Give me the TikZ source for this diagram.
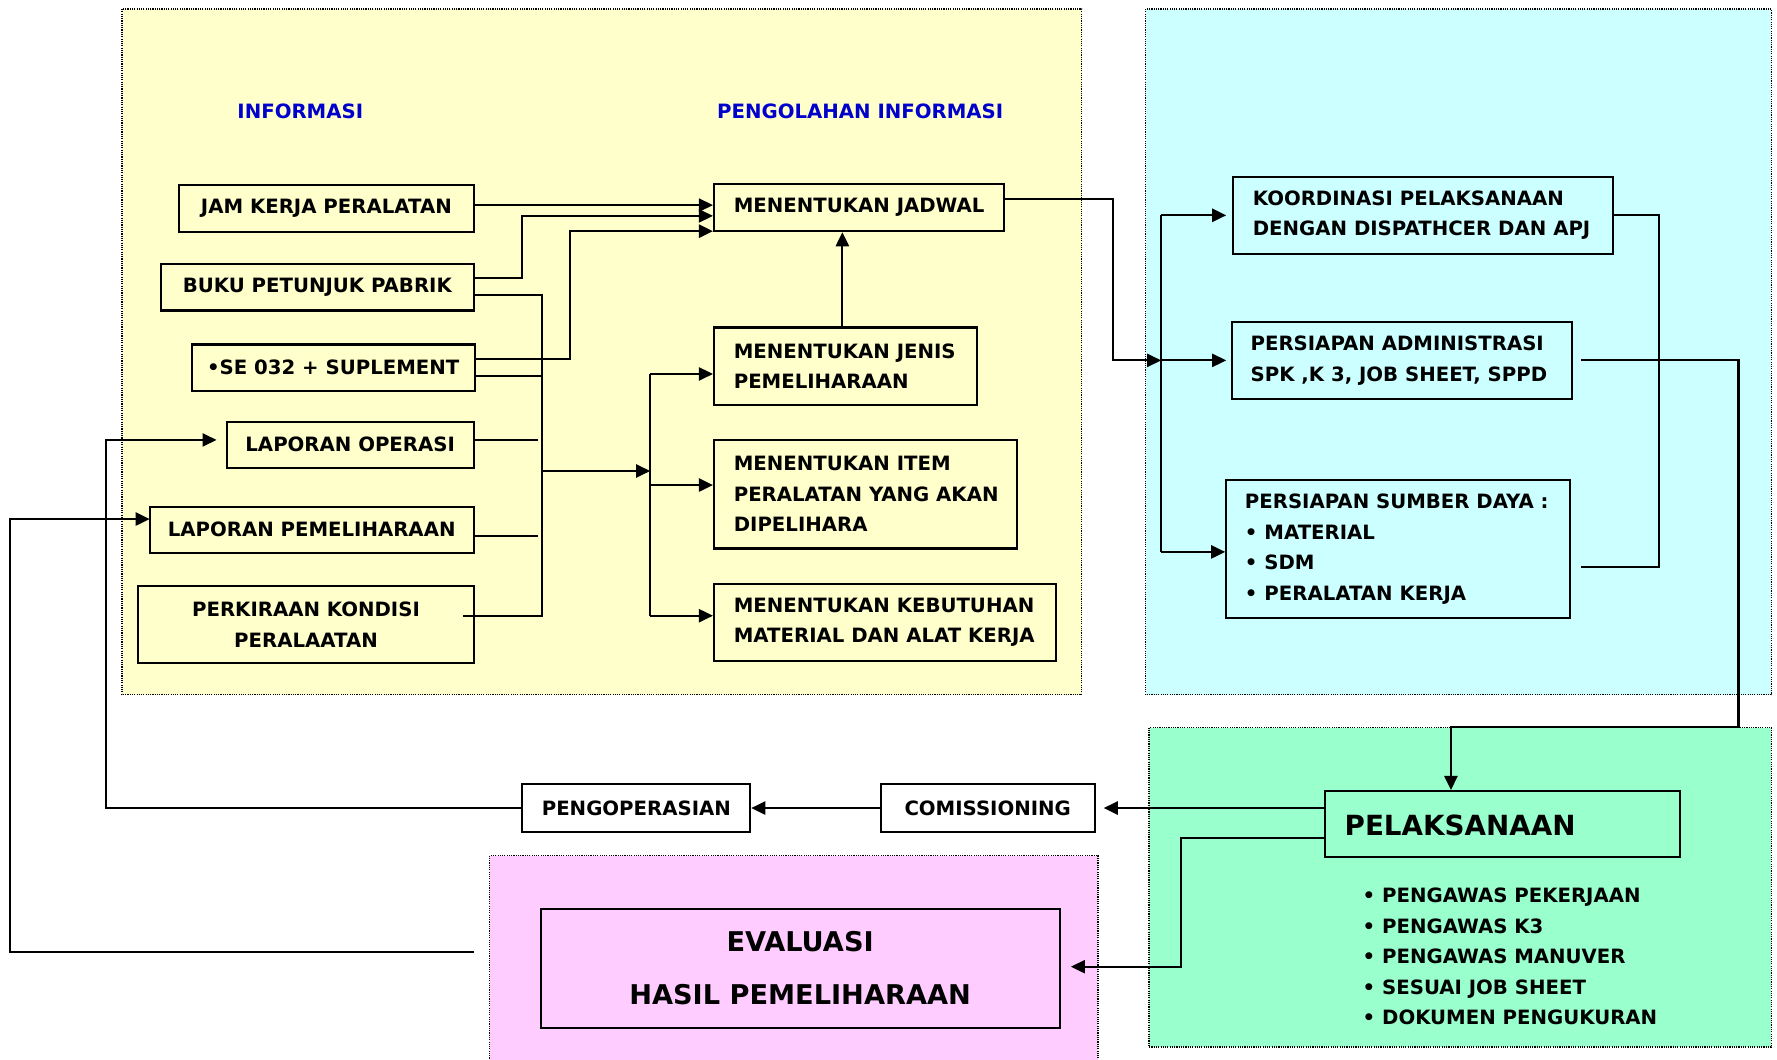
\documentclass[tikz,border=0pt]{standalone}
\usepackage{fontspec}
\setmainfont{DejaVu Sans}
\usetikzlibrary{arrows.meta,calc}
\definecolor{panelY}{HTML}{FFFFCC}
\definecolor{panelC}{HTML}{CCFFFF}
\definecolor{panelG}{HTML}{99FFCC}
\definecolor{panelP}{HTML}{FFCCFF}
\definecolor{headblue}{HTML}{0000CC}
\begin{document}
\begin{tikzpicture}[x=0.5pt,y=-0.5pt,
  every node/.style={font=\fontsize{8.7pt}{13.5pt}\selectfont\bfseries, inner sep=0pt},
  box/.style={draw, line width=0.9pt, align=center},
  txt/.style={align=left, anchor=west},
  wire/.style={line width=0.9pt},
  arr/.style={wire, -{Triangle[length=6.2pt,width=5.8pt]}},
  panel/.style={draw, line width=0.6pt, dash pattern=on 0.5pt off 0.5pt},
  head/.style={text=headblue}]

\clip (0,0) rectangle (1568,935);
\fill[white] (0,0) rectangle (1568,935);

% background panels
\draw[panel, fill=panelY] (107.5,8) rectangle (954.5,613);
\draw[panel, fill=panelC] (1011,8) rectangle (1563,613);
\draw[panel, fill=panelG] (1014,642) rectangle (1563,924);
\draw[panel, fill=panelP] (432,755) rectangle (969,950);

% headings
\node[head] (hInfo) at (265,98) {INFORMASI};
\node[head] (hOlah) at (759,98) {PENGOLAHAN INFORMASI};

% information sources
\node[box, minimum width=130pt, minimum height=21pt] (jam) at (288,184) {JAM KERJA PERALATAN};
\node[box, minimum width=138pt, minimum height=20.5pt] (buku) at (280,253.5) {BUKU PETUNJUK PABRIK};
\node[box, minimum width=125pt, minimum height=20.5pt] (se) at (294,324.5) {•SE 032 + SUPLEMENT};
\node[box, minimum width=109pt, minimum height=20.5pt] (lop) at (309,392.5) {LAPORAN OPERASI};
\node[box, minimum width=143pt, minimum height=20.5pt] (lpem) at (275,467.5) {LAPORAN PEMELIHARAAN};
\node[box, minimum width=148pt, minimum height=34pt] (perk) at (270,551) {PERKIRAAN KONDISI\\PERALAATAN};

% processing
\node[box, minimum width=128pt, minimum height=21pt] (jadwal) at (758,183) {};
\node[txt] at ($(jadwal.west)+(18,0)$) {MENENTUKAN JADWAL};
\node[box, minimum width=116pt, minimum height=34pt] (jenis) at (746,323) {};
\node[txt] at ($(jenis.west)+(18,0)$) {MENENTUKAN JENIS\\PEMELIHARAAN};
\node[box, minimum width=133.5pt, minimum height=48pt] (item) at (763.5,436) {};
\node[txt] at ($(item.west)+(18,0)$) {MENENTUKAN ITEM\\PERALATAN YANG AKAN\\DIPELIHARA};
\node[box, minimum width=151pt, minimum height=34pt] (kebut) at (781,549) {};
\node[txt] at ($(kebut.west)+(18,0)$) {MENENTUKAN KEBUTUHAN\\MATERIAL DAN ALAT KERJA};

% preparation
\node[box, minimum width=167.5pt, minimum height=34pt] (koord) at (1255.5,190) {};
\node[txt] at ($(koord.west)+(18,0)$) {KOORDINASI PELAKSANAAN\\DENGAN DISPATHCER DAN APJ};
\node[box, minimum width=150pt, minimum height=34pt] (admin) at (1237,318) {};
\node[txt] at ($(admin.west)+(17,0)$) {PERSIAPAN ADMINISTRASI\\SPK ,K 3, JOB SHEET, SPPD};
\node[box, minimum width=151.5pt, minimum height=61pt] (sumber) at (1233.5,484.5) {};
\node[txt] at ($(sumber.west)+(17,0)$) {PERSIAPAN SUMBER DAYA :\\• MATERIAL\\• SDM\\• PERALATAN KERJA};

% execution
\node[box, minimum width=156.5pt, minimum height=29pt] (pelak) at (1325.5,727) {};
\node[txt, font=\fontsize{12.25pt}{14pt}\selectfont\bfseries] at ($(pelak.west)+(18,1)$) {PELAKSANAAN};
\node[txt] (list) at (1202,844) {• PENGAWAS PEKERJAAN\\• PENGAWAS K3\\• PENGAWAS MANUVER\\• SESUAI JOB SHEET\\• DOKUMEN PENGUKURAN};
\node[box, minimum width=94.5pt, minimum height=21pt] (comm) at (871.5,713) {COMISSIONING};
\node[box, minimum width=100.5pt, minimum height=21pt] (pengop) at (561.5,713) {PENGOPERASIAN};
\node[box, minimum width=229pt, minimum height=52.5pt, font=\fontsize{12pt}{23.5pt}\selectfont\bfseries] (eval) at (706,854.5) {EVALUASI\\HASIL PEMELIHARAAN};

% routing columns and free ends
\coordinate (cB) at (460.6,0);
\coordinate (cS) at (502.7,0);
\coordinate (bus1) at (478.6,0);
\coordinate (bus2) at (573.7,0);
\coordinate (cU) at (743.3,0);
\coordinate (cJ) at (982.4,0);
\coordinate (bus3) at (1024.6,0);
\coordinate (tipR) at (1082,0);
\coordinate (cK) at (1464,0);
\coordinate (cA) at (1534,0);
\coordinate (rowA) at (0,641.6);
\coordinate (cD) at (1280.3,0);
\coordinate (cP) at (1041.8,0);
\coordinate (cL1) at (93.5,0);
\coordinate (cL2) at (8.7,0);
\coordinate (fb) at (418.4,839.7);

% inputs to the schedule
\draw[arr] ($(jam.east)+(0,-3)$) -- ($(jadwal.west)+(0,-2)$);
\draw[arr] ($(buku.east)+(0,-8)$) -| ($(cB|-jadwal.west)+(0,7.5)$) -- ($(jadwal.west)+(0,7.5)$);
\draw[arr] ($(se.east)+(0,-7.5)$) -| ($(cS|-jadwal.west)+(0,21)$) -- ($(jadwal.west)+(0,21)$);

% collector bus
\draw[wire] ($(buku.east)+(0,7)$) -| ($(bus1|-perk.east)+(0,-7.7)$) -- ($(perk.east)+(-10.4,-7.7)$);
\draw[wire] ($(se.east)+(0,7)$) -- ($(bus1|-se.east)+(0,7)$);
\draw[wire] ($(lop.east)+(0,-4.3)$) -- ($(bus1|-lop.east)+(-3.7,-4.3)$);
\draw[wire] ($(lpem.east)+(0,5.2)$) -- ($(bus1|-lpem.east)+(-3.7,5.2)$);
\draw[arr] ($(bus1|-item.west)+(0,-20.4)$) -- ($(bus2|-item.west)+(0,-20.4)$);

% distribution bus
\draw[wire] ($(bus2|-jenis.west)+(0,7)$) -- ($(bus2|-kebut.west)+(0,-5.7)$);
\draw[arr] ($(bus2|-jenis.west)+(0,7)$) -- ($(jenis.west)+(0,7)$);
\draw[arr] ($(bus2|-item.west)+(0,-8)$) -- ($(item.west)+(0,-8)$);
\draw[arr] ($(bus2|-kebut.west)+(0,-5.7)$) -- ($(kebut.west)+(0,-5.7)$);
\draw[arr] (cU|-jenis.north) -- (cU|-jadwal.south);

% schedule to preparation
\draw[arr] ($(jadwal.east)+(0,-7)$) -| (cJ|-admin.west) -- (bus3|-admin.west);
\draw[wire] (bus3|-koord.west) -- ($(bus3|-sumber.west)+(0,2.5)$);
\draw[arr] (bus3|-koord.west) -- (tipR|-koord.west);
\draw[arr] (bus3|-admin.west) -- (tipR|-admin.west);
\draw[arr] ($(bus3|-sumber.west)+(0,2.5)$) -- ($(sumber.west)+(0,2.5)$);
\draw[wire] (koord.east) -| ($(cK|-sumber.east)+(0,16)$) -- ($(sumber.east)+(9,16)$);

% preparation to execution
\draw[arr] ($(admin.east)+(7,0)$) -| (cA|-rowA) -| (cD|-pelak.north);

% execution outputs
\draw[arr] ($(pelak.west)+(0,-14)$) -- ($(comm.east)+(7,0)$);
\draw[arr] (comm.west) -- (pengop.east);
\draw[arr] (pengop.west) -| ($(cL1|-lop.west)+(0,-4.3)$) -- ($(lop.west)+(-8,-4.3)$);
\draw[arr] ($(pelak.west)+(0,12.7)$) -| ($(cP|-eval.east)+(0,-1.5)$) -- ($(eval.east)+(9,-1.5)$);
\draw[arr] (fb) -| ($(cL2|-lpem.west)+(0,-9.5)$) -- ($(lpem.west)+(1,-9.5)$);

\end{tikzpicture}
\end{document}
